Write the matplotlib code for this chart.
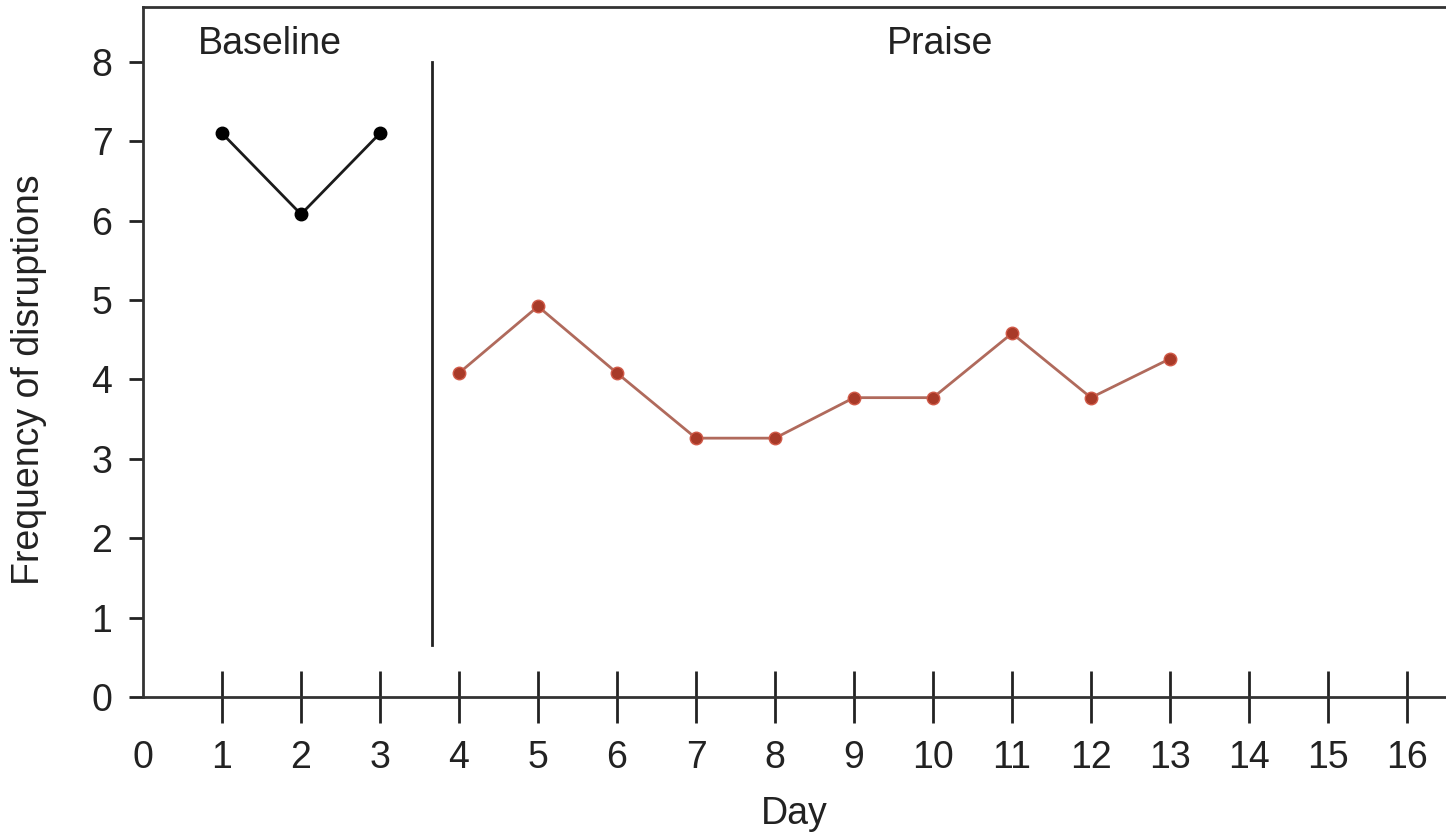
import matplotlib
matplotlib.use("Agg")
import matplotlib.pyplot as plt

plt.rcParams['font.family'] = ['Liberation Sans', 'DejaVu Sans']

# Data
baseline_days = [1, 2, 3]
baseline_values = [7.1, 6.08, 7.1]
praise_days = [4, 5, 6, 7, 8, 9, 10, 11, 12, 13]
praise_values = [4.08, 4.92, 4.08, 3.26, 3.26, 3.77, 3.77, 4.58, 3.77, 4.26]
x_ticks = list(range(0, 17))
y_ticks = list(range(0, 9))
phase_change_x = 3.66
phase_line_ymin, phase_line_ymax = 0.65, 8.0
phase_labels = ["Baseline", "Praise"]
phase_label_x = [1.61, 10.09]
phase_label_y = 8.1

FS = 27
TXT = '#222222'

fig = plt.figure(figsize=(14.46, 8.34), dpi=100)
ax = fig.add_axes([143/1446, 1-697/834, 1-143/1446, (697-7)/834])

ax.plot(baseline_days, baseline_values, color='#1a1a1a', lw=2, marker='o',
        ms=9, mfc='black', mec='black', zorder=3)
ax.plot(praise_days, praise_values, color='#b06a5c', lw=2, marker='o',
        ms=9, mfc='#a83a28', mec='#d05a48', zorder=3)

ax.plot([phase_change_x, phase_change_x], [phase_line_ymin, phase_line_ymax],
        color='#222222', lw=2)

ax.set_xlim(0, (1446-143)/79.0)
ax.set_ylim(0, (697-7)/79.4)

ax.set_xticks(x_ticks)
ax.set_yticks(y_ticks)
ax.set_xticklabels([str(t) for t in x_ticks], fontsize=FS, color=TXT)
ax.set_yticklabels([str(t) for t in y_ticks], fontsize=FS, color=TXT)
ax.tick_params(axis='x', direction='inout', length=38, width=2, pad=12, color='#222222')
ax.tick_params(axis='y', direction='out', length=10, width=2, pad=12, color='#222222')
# no tick mark at 0 on x
ax.xaxis.get_major_ticks()[0].tick1line.set_visible(False)

for s in ['left', 'bottom', 'top']:
    ax.spines[s].set_linewidth(2)
    ax.spines[s].set_color('#333333')
ax.spines['right'].set_visible(False)

ax.set_xlabel('Day', fontsize=FS, color=TXT, labelpad=14)
ax.set_ylabel('Frequency of disruptions', fontsize=FS, color=TXT)
ax.yaxis.set_label_coords(-0.074, 0.46)

for lx, lab in zip(phase_label_x, phase_labels):
    ax.text(lx, phase_label_y, lab, fontsize=FS, ha='center', va='baseline', color=TXT)

fig.savefig('out.png', dpi=100)
